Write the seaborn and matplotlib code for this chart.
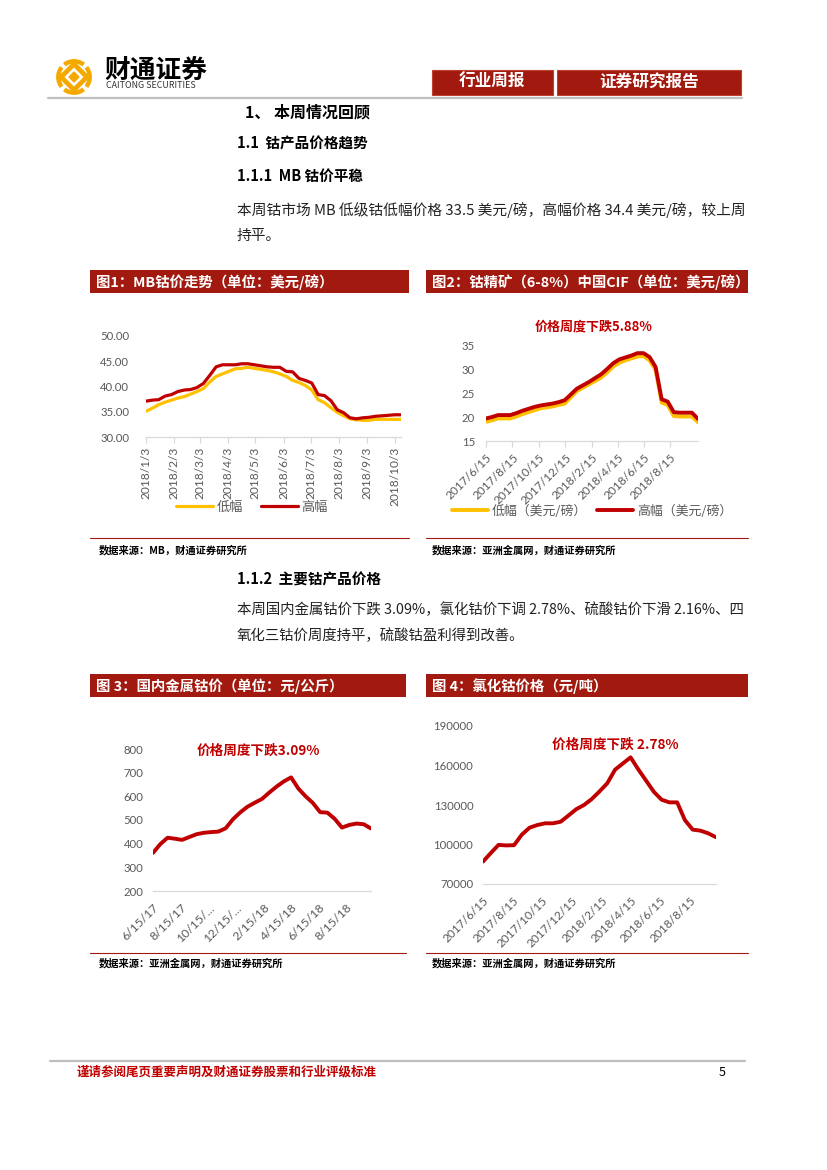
import numpy as np
import pandas as pd
import seaborn as sns
import matplotlib.pyplot as plt
from matplotlib.patches import Rectangle, Arc, Polygon
from matplotlib.lines import Line2D

# ---- values ----
# fig 1: MB cobalt low / high grade, weekly, USD/lb
mb_dates = pd.date_range('2018-01-03', periods=41, freq='7D')
mb_low = [35.1, 35.7, 36.4, 36.9, 37.3, 37.7, 38.0, 38.5, 39.0, 39.6,
          40.9, 42.0, 42.5, 43.0, 43.5, 43.6, 43.8, 43.6, 43.4, 43.2,
          42.9, 42.5, 42.0, 41.2, 40.8, 40.2, 39.3, 37.4, 36.8, 35.8,
          34.9, 34.2, 33.6, 33.4, 33.3, 33.3, 33.5, 33.5, 33.5, 33.5, 33.5]
mb_high = [37.1, 37.3, 37.4, 38.1, 38.4, 39.0, 39.3, 39.4, 39.8, 40.6,
           42.2, 43.9, 44.3, 44.3, 44.3, 44.5, 44.5, 44.3, 44.1, 43.9,
           43.8, 43.8, 43.0, 42.9, 41.6, 41.2, 40.7, 38.4, 38.2, 37.2,
           35.4, 34.8, 33.8, 33.6, 33.8, 33.9, 34.1, 34.2, 34.3, 34.4, 34.4]
mb_ticks = [pd.Timestamp(2018, m, 3) for m in range(1, 11)]

# fig 2: cobalt concentrate CIF China, USD/lb
cif_dates = pd.date_range('2017-06-15', periods=36, freq='14D')
cif_low = [19.0, 19.3, 19.7, 19.7, 19.7, 20.1, 20.6, 21.0, 21.4, 21.8,
           22.0, 22.2, 22.5, 22.8, 24.1, 25.4, 26.1, 26.8, 27.5, 28.2,
           29.3, 30.5, 31.3, 31.8, 32.2, 32.6, 32.7, 31.8, 29.8, 23.0,
           22.5, 20.2, 20.1, 20.1, 20.1, 18.9]
cif_high = [19.7, 20.0, 20.4, 20.4, 20.4, 20.8, 21.3, 21.7, 22.1, 22.4,
            22.6, 22.8, 23.1, 23.5, 24.7, 25.9, 26.6, 27.3, 28.1, 28.9,
            30.0, 31.2, 32.0, 32.4, 32.8, 33.3, 33.3, 32.5, 30.4, 23.7,
            23.2, 21.0, 20.9, 20.9, 20.9, 19.6]
two_month_ticks = [pd.Timestamp(2017, 6, 15), pd.Timestamp(2017, 8, 15),
                   pd.Timestamp(2017, 10, 15), pd.Timestamp(2017, 12, 15),
                   pd.Timestamp(2018, 2, 15), pd.Timestamp(2018, 4, 15),
                   pd.Timestamp(2018, 6, 15), pd.Timestamp(2018, 8, 15)]
long_labels = ['2017/6/15', '2017/8/15', '2017/10/15', '2017/12/15',
               '2018/2/15', '2018/4/15', '2018/6/15', '2018/8/15']
short_labels = ['6/15/17', '8/15/17', '10/15/...', '12/15/...',
                '2/15/18', '4/15/18', '6/15/18', '8/15/18']

# fig 3: domestic metal cobalt, yuan/kg
metal_dates = pd.date_range('2017-06-15', periods=31, freq='16D')
metal_price = [361, 398, 425, 421, 416, 428, 440, 446, 449, 451,
               465, 503, 532, 556, 573, 589, 616, 641, 663, 680,
               633, 600, 572, 533, 531, 505, 468, 479, 485, 482, 464]

# fig 4: cobalt chloride, yuan/t
chloride_dates = pd.date_range('2017-06-15', periods=31, freq='16D')
chloride_price = [87000, 93500, 99700, 99300, 99500, 107500, 112800, 114800, 116100, 116100,
                  117300, 122000, 126800, 130000, 134500, 140300, 146500, 156800, 161500, 166200,
                  157000, 148500, 140000, 134000, 132000, 132000, 118500, 111300, 110500, 108500,
                  105500]

BAR = '#A21A0F'
LRED = '#C00000'
GOLD = '#FFC000'
GREY = '#595959'
CJK = ['Noto Sans CJK SC', 'DejaVu Sans']
NUM = ['Lato', 'DejaVu Sans']

sns.set_style('white')
plt.rcParams['font.family'] = CJK
plt.rcParams['axes.unicode_minus'] = False

W, H = 827, 1170
fig = plt.figure(figsize=(8.27, 11.7), dpi=100)


def fx(x):
    return x / W


def fy(y):
    return 1 - y / H


def box(x0, y0, x1, y1, color, ec='none'):
    fig.add_artist(Rectangle((fx(x0), fy(y1)), (x1 - x0) / W, (y1 - y0) / H,
                             transform=fig.transFigure, facecolor=color, edgecolor=ec, lw=0.8))


def hline(x0, x1, y, color, lw):
    fig.add_artist(Line2D([fx(x0), fx(x1)], [fy(y), fy(y)], transform=fig.transFigure,
                          color=color, lw=lw))


def txt(x, y, s, size, color='black', weight='normal', ha='left', **kw):
    fig.text(fx(x), fy(y), s, fontsize=size, color=color, weight=weight,
             ha=ha, va='center', family=CJK, **kw)


def page_axes(x0, x1, ytop, ybot):
    return fig.add_axes([fx(x0), fy(ybot), (x1 - x0) / W, (ybot - ytop) / H])


def style(ax, ymin, ymax, ystep, fmt, ypad, xpad, ticklen, xsize=8):
    ax.set_ylim(ymin, ymax)
    ax.set_yticks(np.arange(ymin, ymax + ystep / 2, ystep))
    ax.set_yticklabels([fmt.format(v) for v in np.arange(ymin, ymax + ystep / 2, ystep)])
    for s in ['top', 'right', 'left']:
        ax.spines[s].set_visible(False)
    ax.spines['bottom'].set_color('#D9D9D9')
    ax.spines['bottom'].set_linewidth(0.9)
    ax.set_xlabel('')
    ax.set_ylabel('')
    ax.grid(False)
    ax.tick_params(axis='y', length=0, labelsize=8.2, labelcolor=GREY, pad=ypad)
    ax.tick_params(axis='x', length=ticklen, width=0.9, color='#D9D9D9',
                   labelsize=xsize, labelcolor=GREY, pad=xpad, bottom=True)
    for lab in ax.get_xticklabels() + ax.get_yticklabels():
        lab.set_family(NUM)


# ---- page header ----
logo = fig.add_axes([fx(55), fy(97), 38 / W, 40 / H])
logo.set_xlim(-1.15, 1.15)
logo.set_ylim(-1.15, 1.15)
logo.set_aspect('equal')
logo.axis('off')
for a in [0, 90, 180, 270]:
    logo.add_patch(Arc((0, 0), 1.9, 1.9, theta1=a - 38, theta2=a + 38, color='#F5A800', lw=3.2))
logo.add_patch(Polygon([[0, 0.78], [0.78, 0], [0, -0.78], [-0.78, 0]], closed=True,
                       facecolor='none', edgecolor='#F5A800', lw=3.4, joinstyle='round'))
logo.add_patch(Polygon([[0, 0.3], [0.3, 0], [0, -0.3], [-0.3, 0]], closed=True,
                       facecolor='#F5A800', edgecolor='#F5A800', lw=1))
txt(104, 70, '财通证券', 18.5, weight='bold')
txt(106, 86, 'CAITONG SECURITIES', 6.4, color='#333333')

box(432, 70, 553, 95, BAR, ec='#C04030')
box(557, 70, 741, 95, BAR, ec='#C04030')
txt(492, 82, '行业周报', 12, color='white', weight='bold', ha='center')
txt(649, 82, '证券研究报告', 12, color='white', weight='bold', ha='center')
hline(48, 742, 97.5, '#BFBFBF', 1.6)

# ---- body text ----
txt(245, 112, '1、 本周情况回顾', 11.5, weight='bold')
txt(237, 144, '1.1  钴产品价格趋势', 10.5, weight='bold')
txt(237, 177, '1.1.1  MB 钴价平稳', 10.5, weight='bold')
txt(237, 210, '本周钴市场 MB 低级钴低幅价格 33.5 美元/磅，高幅价格 34.4 美元/磅，较上周', 10.6, color='#222222')
txt(237, 236, '持平。', 10.6, color='#222222')
txt(237, 580, '1.1.2  主要钴产品价格', 10.5, weight='bold')
txt(237, 610, '本周国内金属钴价下跌 3.09%，氯化钴价下调 2.78%、硫酸钴价下滑 2.16%、四', 10.4, color='#222222')
txt(237, 636, '氧化三钴价周度持平，硫酸钴盈利得到改善。', 10.4, color='#222222')

# ---- chart headers and source lines ----
box(90, 270, 409, 293, BAR)
box(426, 270, 748, 293, BAR)
txt(96, 282, '图1：MB钴价走势（单位：美元/磅）', 10.4, color='white', weight='bold')
txt(432, 282, '图2：钴精矿（6-8%）中国CIF（单位：美元/磅）', 10.4, color='white', weight='bold')
box(90, 674, 406, 697, BAR)
box(426, 674, 748, 697, BAR)
txt(96, 686, '图 3：国内金属钴价（单位：元/公斤）', 10.4, color='white', weight='bold')
txt(432, 686, '图 4：氯化钴价格（元/吨）', 10.4, color='white', weight='bold')

hline(90, 409, 538, BAR, 0.8)
hline(426, 748, 538, BAR, 0.8)
hline(90, 406, 953, BAR, 0.8)
hline(426, 748, 953, BAR, 0.8)
txt(99, 550, '数据来源：MB，财通证券研究所', 7.4, weight='bold')
txt(432, 550, '数据来源：亚洲金属网，财通证券研究所', 7.4, weight='bold')
txt(99, 963, '数据来源：亚洲金属网，财通证券研究所', 7.4, weight='bold')
txt(432, 963, '数据来源：亚洲金属网，财通证券研究所', 7.4, weight='bold')

# ---- footer ----
hline(50, 745, 1061, '#BFBFBF', 1.6)
txt(77, 1072, '谨请参阅尾页重要声明及财通证券股票和行业评级标准', 9, color=LRED, weight='bold')
txt(722, 1072, '5', 9, color='black', ha='center')

# ---- fig 1 ----
ax1 = page_axes(146, 401, 336, 437)
sns.lineplot(x=mb_dates, y=mb_low, ax=ax1, color=GOLD, lw=2.3, label='低幅')
sns.lineplot(x=mb_dates, y=mb_high, ax=ax1, color=LRED, lw=2.3, label='高幅')
ax1.set_xlim(mb_dates[0], mb_dates[-1])
ax1.set_xticks(mb_ticks)
ax1.set_xticklabels([f'{d.year}/{d.month}/{d.day}' for d in mb_ticks], rotation=90)
style(ax1, 30, 50, 5, '{:.2f}', 12, 3, 4, xsize=8.6)
ax1.legend(loc='center', bbox_to_anchor=(fx(252), fy(507)), bbox_transform=fig.transFigure,
           ncol=2, frameon=False, fontsize=9.5, handlelength=2.8, handletextpad=0.3,
           columnspacing=1.3, labelcolor=GREY)

# ---- fig 2 ----
ax2 = page_axes(486, 698, 345, 441)
sns.lineplot(x=cif_dates, y=cif_low, ax=ax2, color=GOLD, lw=2.8, label='低幅（美元/磅）')
sns.lineplot(x=cif_dates, y=cif_high, ax=ax2, color=LRED, lw=2.8, label='高幅（美元/磅）')
ax2.set_xlim(cif_dates[0], cif_dates[-1])
ax2.set_xticks(two_month_ticks)
ax2.set_xticklabels(long_labels, rotation=45, ha='right', rotation_mode='anchor')
style(ax2, 15, 35, 5, '{:.0f}', 8, 4, 4, xsize=8.6)
ax2.legend(loc='center', bbox_to_anchor=(fx(592), fy(511)), bbox_transform=fig.transFigure,
           ncol=2, frameon=False, fontsize=9.3, handlelength=2.8, handletextpad=0.3,
           columnspacing=0.8, labelcolor=GREY)
txt(594, 327, '价格周度下跌5.88%', 9.4, color=LRED, weight='bold', ha='center')

# ---- fig 3 ----
ax3 = page_axes(153, 371, 749, 891)
sns.lineplot(x=metal_dates, y=metal_price, ax=ax3, color=LRED, lw=2.8)
ax3.set_xlim(metal_dates[0], metal_dates[-1])
ax3.set_xticks(two_month_ticks)
ax3.set_xticklabels(short_labels, rotation=45, ha='right', rotation_mode='anchor')
style(ax3, 200, 800, 100, '{:.0f}', 7, 8, 0, xsize=8.8)
txt(258, 751, '价格周度下跌3.09%', 9.8, color=LRED, weight='bold', ha='center')

# ---- fig 4 ----
ax4 = page_axes(483, 716, 726, 884)
sns.lineplot(x=chloride_dates, y=chloride_price, ax=ax4, color=LRED, lw=2.8)
ax4.set_xlim(chloride_dates[0], chloride_dates[-1])
ax4.set_xticks(two_month_ticks)
ax4.set_xticklabels(long_labels, rotation=45, ha='right', rotation_mode='anchor')
style(ax4, 70000, 190000, 30000, '{:.0f}', 7, 8, 0, xsize=8.6)
txt(615, 745, '价格周度下跌 2.78%', 9.8, color=LRED, weight='bold', ha='center')

fig.savefig('out.png', dpi=100)
